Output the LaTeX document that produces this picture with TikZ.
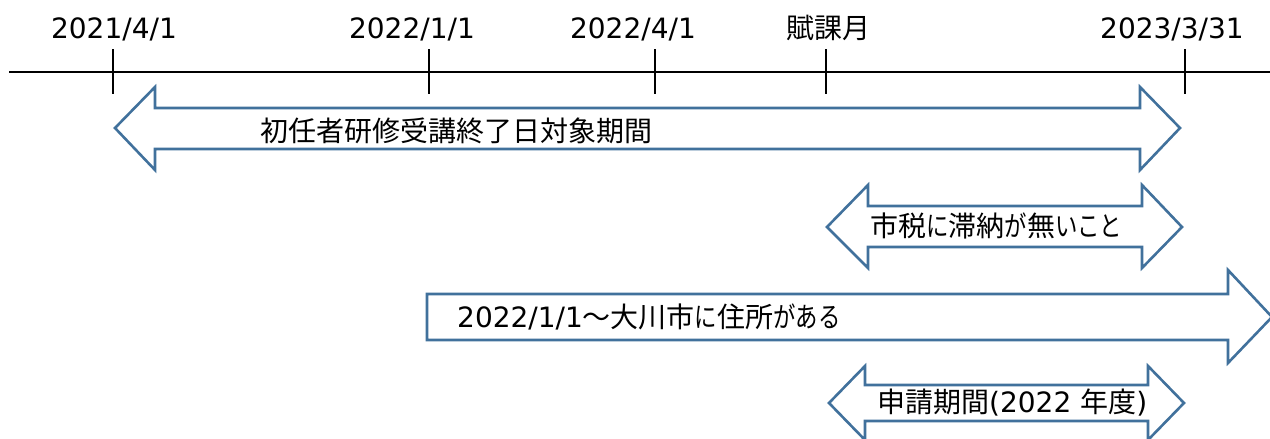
\documentclass[tikz,border=0pt]{standalone}
\usepackage{fontspec}
\setmainfont{DejaVu Sans}
\newfontfamily\cjk{Noto Sans CJK JP}
\newfontfamily\kn{Noto Sans CJK JP}[FakeStretch=0.8]
\definecolor{arrowblue}{HTML}{41719C}
\begin{document}
\begin{tikzpicture}[x=1pt,y=-1pt,
  axis/.style={line width=1.8pt,black},
  tick/.style={line width=1.8pt,black},
  bigarrow/.style={draw=arrowblue,line width=2.6pt,fill=white,line join=miter},
  lbl/.style={inner sep=0pt,anchor=base,font=\fontsize{28}{32}\selectfont},
  txt/.style={inner sep=0pt,anchor=base west,font=\fontsize{28}{32}\selectfont}]
\useasboundingbox (0,0) rectangle (1270,439);
% timeline
\coordinate (l0) at (9,72);
\coordinate (l1) at (1270,72);
\draw[axis] (l0) -- (l1);
\foreach \x/\n in {113/t1,429/t2,655/t3,826/t4,1185/t5}{
  \coordinate (\n a) at (\x,49);
  \coordinate (\n b) at (\x,94);
  \draw[tick] (\n a) -- (\n b);
}
\node[lbl] (d1) at (114,38) {2021/4/1};
\node[lbl] (d2) at (412,38) {2022/1/1};
\node[lbl] (d3) at (633,38) {2022/4/1};
\node[lbl] (d4) at (828,38) {\cjk 賦課月};
\node[lbl] (d5) at (1172,38) {2023/3/31};
% arrow 1
\draw[bigarrow] (115,128) -- (155,87) -- (155,108) -- (1140,108) -- (1140,87) -- (1180,128)
  -- (1140,170) -- (1140,149) -- (155,149) -- (155,170) -- cycle;
\node[txt] (a1) at (260,141) {\cjk 初任者研修受講終了日対象期間};
% arrow 2
\draw[bigarrow] (827,227) -- (868,185) -- (868,206) -- (1142,206) -- (1142,185) -- (1182,227)
  -- (1142,268) -- (1142,247) -- (868,247) -- (868,268) -- cycle;
\node[txt] (a2) at (870,236) {{\cjk 市税}{\kn に}{\cjk 滞納}{\kn が}{\cjk 無}{\kn いこと}};
% arrow 3
\draw[bigarrow] (427,294) -- (1228,294) -- (1228,270) -- (1272,317) -- (1228,363) -- (1228,340)
  -- (427,340) -- cycle;
\node[txt] (a3) at (457,327) {2022/1/1{\cjk ～大川市}{\kn に}{\cjk 住所}{\kn がある}};
% arrow 4
\draw[bigarrow] (829,403) -- (865,366) -- (865,385) -- (1148,385) -- (1148,366) -- (1184,403)
  -- (1148,440) -- (1148,421) -- (865,421) -- (865,440) -- cycle;
\node[txt] (a4) at (877,412) {{\cjk 申請期間}(2022 {\cjk 年度})};
\end{tikzpicture}
\end{document}
